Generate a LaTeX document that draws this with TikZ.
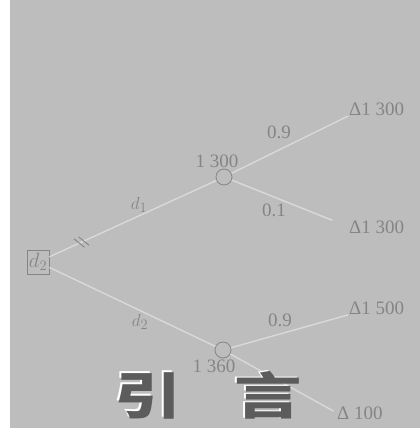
\documentclass[tikz,border=0pt]{standalone}
\usepackage{fontspec}
\setmainfont{Liberation Serif}
\newfontfamily\cjk{Noto Sans CJK SC}
\usetikzlibrary{decorations.markings}
\definecolor{bg}{HTML}{BDBDBD}
\definecolor{ln}{HTML}{D9D9D9}
\definecolor{tx}{HTML}{858585}
\definecolor{ch}{HTML}{5C5C5C}
\begin{document}
\begin{tikzpicture}[x=1pt,y=-1pt,
 lbl/.style={text=tx, font=\fontsize{19}{21}\selectfont, inner sep=0},
 chance/.style={circle, draw=tx, line width=0.8pt, minimum size=16pt, inner sep=0},
 decbox/.style={draw=tx, line width=0.8pt, minimum width=22pt, minimum height=24pt, inner sep=0, text=tx, font=\fontsize{20}{22}\selectfont},
 term/.style={lbl, anchor=west},
 branch/.style={draw=ln, line width=1.4pt},
 tick/.style={draw=tx, line width=0.9pt},
 bigch/.style={font=\cjk\bfseries\fontsize{50}{50}\selectfont, inner sep=0, xscale=1.35, transform shape}]
\fill[white] (0,0) rectangle (420,434);
\fill[bg] (10,0) rectangle (420,428);
\useasboundingbox (0,0) rectangle (420,434);

\node[decbox] (dec) at (38,262) {$d_2$};
\node[chance] (c1) at (224,177) {};
\node[chance] (c2) at (223,350) {};
\node[term] (t1) at (349,109) {Δ1 300};
\node[term] (t2) at (349,227) {Δ1 300};
\node[term] (t3) at (349,308) {Δ1 500};
\node[term] (t4) at (337,413) {Δ 100};

\draw[branch, postaction={decorate, decoration={markings, mark=at position 0.19 with {\draw[tick] (-5pt,6pt) -- (1pt,-6pt); \draw[tick] (0pt,6pt) -- (6pt,-6pt);}}}] (dec) -- (c1);
\draw[branch] (dec) -- (c2);
\draw[branch, shorten >=1pt] (c1) -- (t1.south west);
\draw[branch, shorten >=18pt] (c1) -- (t2.west);
\draw[branch, shorten >=1pt] (c2) -- (t3.south west);
\draw[branch, shorten >=4pt] (c2) -- (t4.west);

\node[lbl] (p1) at (217,161) {1 300};
\node[lbl] (q1) at (279,132) {0.9};
\node[lbl] (q2) at (274,210) {0.1};
\node[lbl] (l1) at (139,205) {$d_1$};
\node[lbl] (l2) at (140,322) {$d_2$};
\node[lbl] (q3) at (280,320) {0.9};
\node[lbl] (p2) at (214,366) {1 360};

\node[bigch, text=white] (yinh) at (146.5,394) {引};
\node[bigch, text=ch] (yin) at (148,395.5) {引};
\node[bigch, text=white] (yanh) at (266.5,394) {言};
\node[bigch, text=ch] (yan) at (268,395.5) {言};
\end{tikzpicture}
\end{document}
